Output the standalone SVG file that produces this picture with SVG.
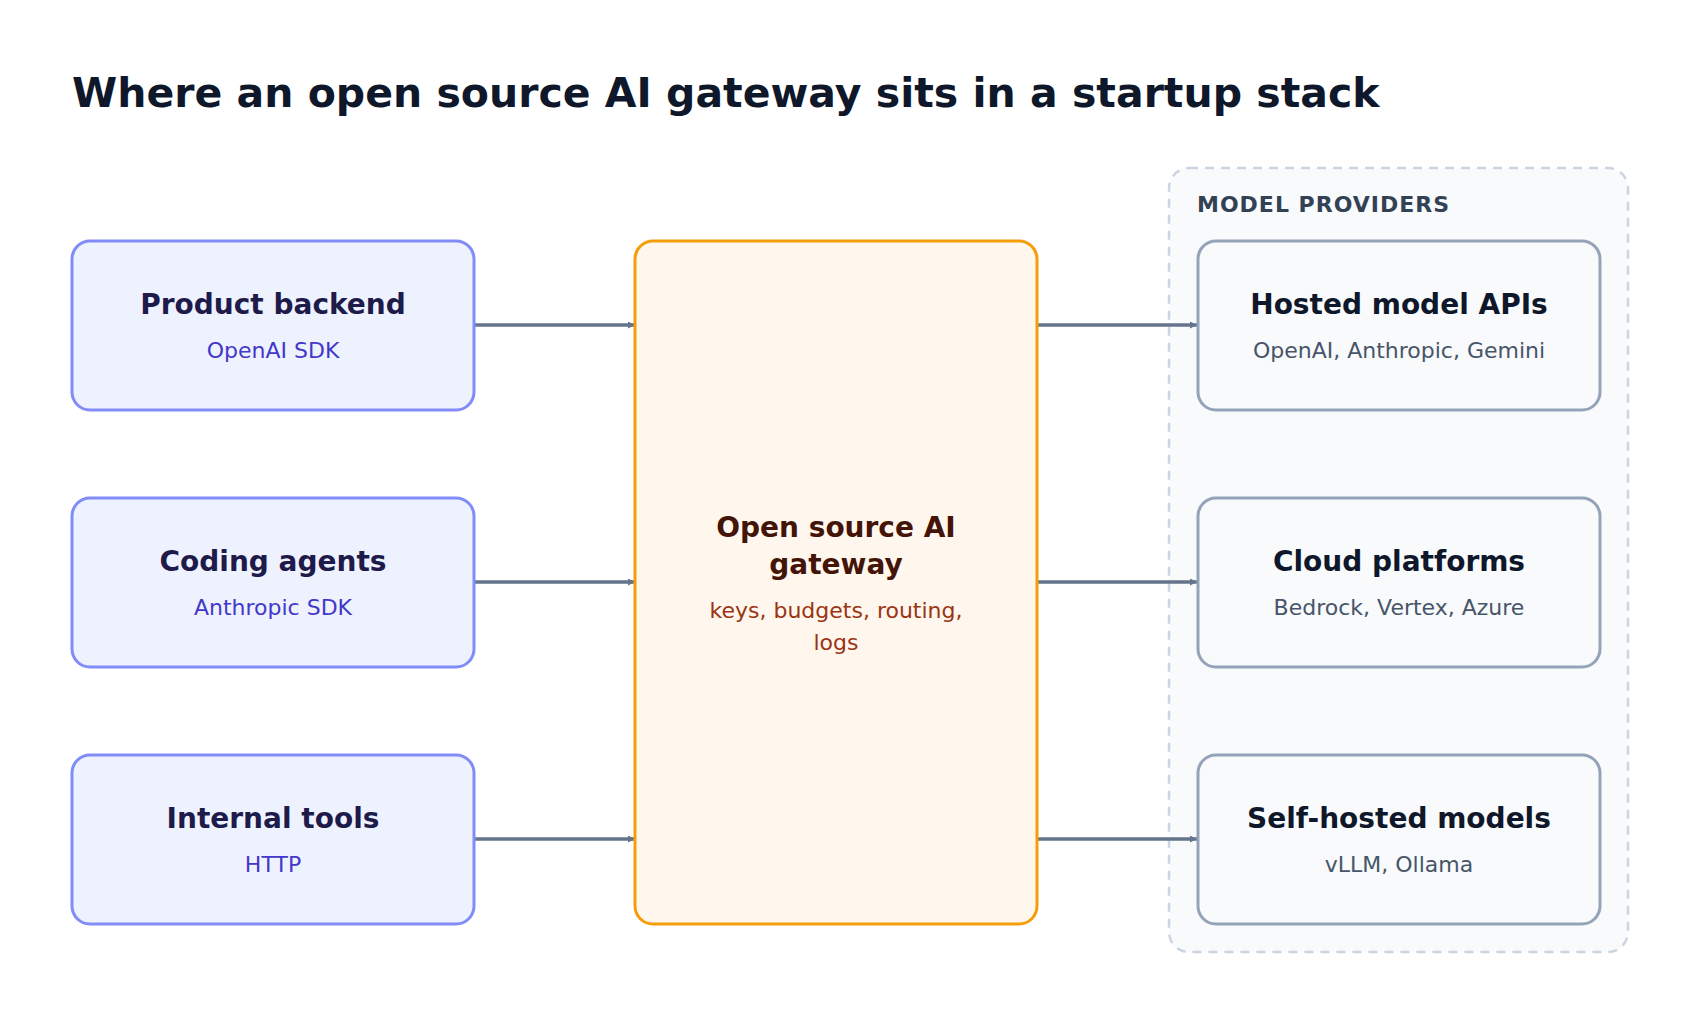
<svg xmlns="http://www.w3.org/2000/svg" width="1692" height="1020" viewBox="0 0 1692 1020">
<style>
text{font-family:"DejaVu Sans","Noto Sans",sans-serif;text-anchor:middle}
.t{font-size:28px;font-weight:bold}
.s{font-size:22px}
.in rect{fill:#eef2ff;stroke:#818cf8;stroke-width:3}
.in .t{fill:#1e1b4b}.in .s{fill:#4338ca}
.pr rect{fill:#f8fafc;stroke:#94a3b8;stroke-width:3}
.pr .t{fill:#0f172a}.pr .s{fill:#475569}
.c line{stroke:#64748b;stroke-width:3.5;marker-end:url(#a)}
</style>
<defs><marker id="a" viewBox="0 0 10 10" refX="10" refY="5" markerWidth="7" markerHeight="7" markerUnits="userSpaceOnUse" orient="auto"><path d="M0,0L10,5L0,10z" fill="#64748b"/></marker></defs>
<defs><marker id="b" viewBox="0 0 10 10" refX="10" refY="5" markerWidth="6" markerHeight="6" orient="auto"><path d="M0,0L10,5L0,10z" fill="#64748b"/></marker></defs>
<rect width="1692" height="1020" fill="#fff"/>
<text x="72" y="107" style="font-size:41px;font-weight:bold;text-anchor:start" fill="#0f172a">Where an open source AI gateway sits in a startup stack</text>
<g id="providers"><rect x="1169" y="168" width="459" height="784" rx="20" fill="#f8fafc" stroke="#cbd5e1" stroke-width="2.5" stroke-dasharray="9 7"/>
<text x="1197" y="212" style="font-size:22px;font-weight:bold;text-anchor:start;letter-spacing:1px" fill="#334155">MODEL PROVIDERS</text></g>
<g class="c" id="connectors">
<line x1="474" y1="325" x2="635" y2="325" marker-end="url(#b)"/>
<line x1="474" y1="582" x2="635" y2="582" marker-end="url(#b)"/>
<line x1="474" y1="839" x2="635" y2="839" marker-end="url(#b)"/>
<line x1="1037" y1="325" x2="1197" y2="325" marker-end="url(#b)"/>
<line x1="1037" y1="582" x2="1197" y2="582" marker-end="url(#b)"/>
<line x1="1037" y1="839" x2="1197" y2="839" marker-end="url(#b)"/>
</g>
<g id="backend" class="in"><rect x="72" y="241" width="402" height="169" rx="18"/><text class="t" x="273" y="314">Product backend</text><text class="s" x="273" y="358">OpenAI SDK</text></g>
<g id="agents" class="in"><rect x="72" y="498" width="402" height="169" rx="18"/><text class="t" x="273" y="571">Coding agents</text><text class="s" x="273" y="615">Anthropic SDK</text></g>
<g id="tools" class="in"><rect x="72" y="755" width="402" height="169" rx="18"/><text class="t" x="273" y="828">Internal tools</text><text class="s" x="273" y="872">HTTP</text></g>
<g id="gateway"><rect x="635" y="241" width="402" height="683" rx="18" fill="#fff7ed" stroke="#f59e0b" stroke-width="3"/>
<text class="t" x="836" y="537" fill="#431407">Open source AI</text><text class="t" x="836" y="574" fill="#431407">gateway</text>
<text class="s" x="836" y="618" fill="#9a3412">keys, budgets, routing,</text><text class="s" x="836" y="650" fill="#9a3412">logs</text></g>
<g id="hosted" class="pr"><rect x="1198" y="241" width="402" height="169" rx="18"/><text class="t" x="1399" y="314">Hosted model APIs</text><text class="s" x="1399" y="358">OpenAI, Anthropic, Gemini</text></g>
<g id="cloud" class="pr"><rect x="1198" y="498" width="402" height="169" rx="18"/><text class="t" x="1399" y="571">Cloud platforms</text><text class="s" x="1399" y="615">Bedrock, Vertex, Azure</text></g>
<g id="selfhosted" class="pr"><rect x="1198" y="755" width="402" height="169" rx="18"/><text class="t" x="1399" y="828">Self-hosted models</text><text class="s" x="1399" y="872">vLLM, Ollama</text></g>
</svg>
